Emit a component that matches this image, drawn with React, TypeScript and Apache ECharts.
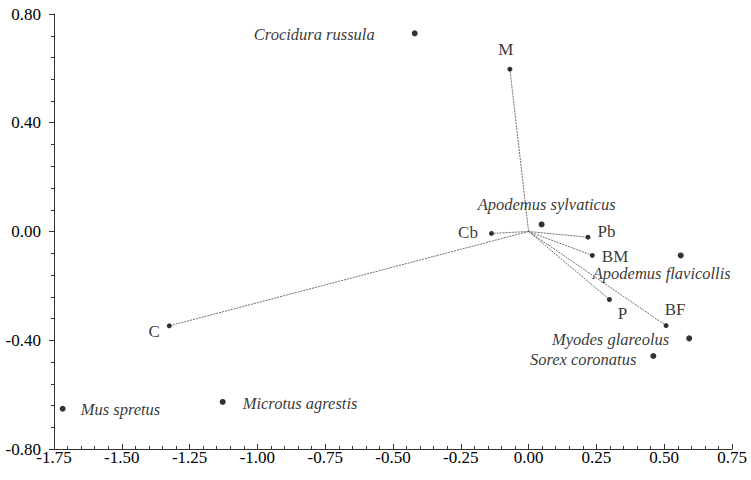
import React, { useEffect, useRef } from "react";
import * as echarts from "echarts";

// Species scores (italic labels)
const speciesNames = [
  "Crocidura russula",
  "Apodemus sylvaticus",
  "Apodemus flavicollis",
  "Myodes glareolus",
  "Sorex coronatus",
  "Mus spretus",
  "Microtus agrestis",
];
const speciesX = [-0.42, 0.048, 0.561, 0.592, 0.46, -1.718, -1.128];
const speciesY = [0.729, 0.026, -0.088, -0.393, -0.458, -0.652, -0.627];

// Environmental vectors drawn from the origin
const vectorNames = ["M", "Cb", "Pb", "BM", "P", "BF", "C"];
const vectorX = [-0.069, -0.137, 0.219, 0.235, 0.298, 0.507, -1.325];
const vectorY = [0.597, -0.007, -0.021, -0.088, -0.25, -0.346, -0.347];

// Axis ticks
const xTicks = [-1.75, -1.5, -1.25, -1.0, -0.75, -0.5, -0.25, 0.0, 0.25, 0.5, 0.75];
const yTicks = [-0.8, -0.4, 0.0, 0.4, 0.8];

const FONT = "Liberation Serif";
const INK = "#000000";

// label placement per point: [position, offsetX, offsetY]
const labelPlacement: Record<string, [string, number, number]> = {
  "Crocidura russula": ["left", -32, 1],
  "Apodemus sylvaticus": ["top", 5, -3],
  "Apodemus flavicollis": ["bottom", -19, 2],
  "Myodes glareolus": ["left", -12, 1],
  "Sorex coronatus": ["left", -9, 3],
  "Mus spretus": ["right", 10, 1],
  "Microtus agrestis": ["right", 12, 2],
  M: ["top", -4, -4],
  Cb: ["left", -6, -1],
  Pb: ["right", 2, -6],
  BM: ["right", 2, 1],
  P: ["bottom", 13, -2],
  BF: ["top", 9, 0],
  C: ["left", -2, 6],
};

function labelFor(name: string, italic: boolean, size: number) {
  const [pos, dx, dy] = labelPlacement[name];
  return {
    show: true,
    formatter: name,
    position: pos,
    offset: [dx, dy],
    distance: 5,
    fontFamily: FONT,
    fontStyle: italic ? "italic" : "normal",
    fontSize: size,
    color: INK,
  };
}

export default function App() {
  const ref = useRef<HTMLDivElement>(null);

  useEffect(() => {
    if (!ref.current) return;
    const chart = echarts.init(ref.current, null, { renderer: "svg" });

    const vectorLines = vectorNames.map((name, i) => ({
      type: "line",
      name: "vec-" + name,
      data: [
        [0, 0],
        [vectorX[i], vectorY[i]],
      ],
      showSymbol: false,
      symbol: "none",
      silent: true,
      lineStyle: { color: "#6e6e6e", width: 1, type: [2, 1] },
      z: 1,
    }));

    const vectorPoints = {
      type: "scatter",
      symbolSize: 5,
      itemStyle: { color: INK },
      data: vectorNames.map((name, i) => ({
        value: [vectorX[i], vectorY[i]],
        label: labelFor(name, false, 17),
      })),
      z: 3,
    };

    const speciesPoints = {
      type: "scatter",
      symbolSize: 6,
      itemStyle: { color: INK },
      data: speciesNames.map((name, i) => ({
        value: [speciesX[i], speciesY[i]],
        label: labelFor(name, true, 16.5),
      })),
      z: 3,
    };

    chart.setOption({
      animation: false,
      backgroundColor: "#ffffff",
      textStyle: { fontFamily: FONT },
      grid: { left: 54, right: 19, top: 14, bottom: 31, containLabel: false },
      xAxis: {
        type: "value",
        min: xTicks[0],
        max: xTicks[xTicks.length - 1],
        interval: 0.25,
        axisLine: { show: true, onZero: false, lineStyle: { color: "#333", width: 1 } },
        axisTick: { show: true, inside: true, length: 5, lineStyle: { color: "#333" } },
        minorTick: { show: true, splitNumber: 5, length: 3, lineStyle: { color: "#333" } },
        splitLine: { show: false },
        axisLabel: {
          margin: 0,
          fontFamily: FONT,
          fontSize: 17,
          color: INK,
          formatter: (v: number) => v.toFixed(2),
        },
      },
      yAxis: {
        type: "value",
        min: yTicks[0],
        max: yTicks[yTicks.length - 1],
        interval: 0.4,
        axisLine: { show: true, onZero: false, lineStyle: { color: "#333", width: 1 } },
        axisTick: { show: true, inside: false, length: 5, lineStyle: { color: "#333" } },
        minorTick: { show: true, splitNumber: 5, length: 3, lineStyle: { color: "#333" } },
        splitLine: { show: false },
        axisLabel: {
          margin: 13,
          fontFamily: FONT,
          fontSize: 17,
          color: INK,
          formatter: (v: number) => v.toFixed(2),
        },
      },
      series: [...vectorLines, vectorPoints, speciesPoints],
    });

    return () => chart.dispose();
  }, []);

  return (
    <div
      ref={ref}
      style={{ position: "absolute", left: 0, top: 0, width: 751, height: 480 }}
    />
  );
}
